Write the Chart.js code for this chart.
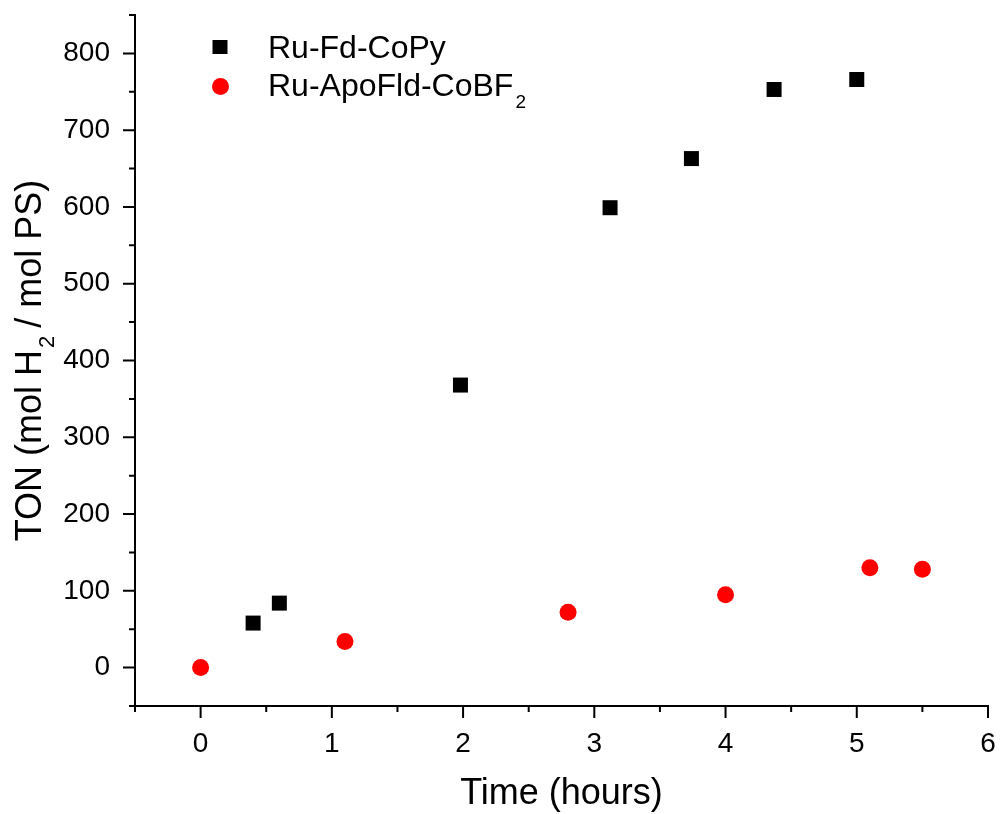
<!DOCTYPE html>
<html>
<head>
    <title>TON vs Time</title>
    <script src="https://cdn.jsdelivr.net/npm/chart.js"></script>
    <style>
        html, body { margin: 0; padding: 0; background: #fff; }
        #wrap { width: 1000px; height: 814px; }
    </style>
</head>
<body>
    <div id="wrap"><canvas id="tonChart" width="1000" height="814"></canvas></div>

    <script>
        // Ru-Fd-CoPy (black squares)
        const fdHours = [0.4, 0.6, 1.98, 3.12, 3.74, 4.37, 5.0];
        const fdTon = [58, 84, 368, 599, 663, 753, 766];

        // Ru-ApoFld-CoBF2 (red circles)
        const fldHours = [0, 1.1, 2.8, 4.0, 5.1, 5.5];
        const fldTon = [0, 34, 72, 95, 130, 128];

        // axis ticks
        const xTicks = [0, 1, 2, 3, 4, 5, 6];
        const xMinor = [-0.5, 0.5, 1.5, 2.5, 3.5, 4.5, 5.5];
        const yTicks = [0, 100, 200, 300, 400, 500, 600, 700, 800];
        const yMinor = [-50, 50, 150, 250, 350, 450, 550, 650, 750, 850];

        const FONT = "'Liberation Sans', Arial, sans-serif";

        // draws text pieces, some of them as subscripts
        const drawRich = (ctx, parts, x, y, size, align) => {
            const subSize = Math.round(size * 0.6);
            let total = 0;
            parts.forEach(([t, sub]) => {
                ctx.font = `${sub ? subSize : size}px ${FONT}`;
                total += ctx.measureText(t).width;
            });
            let cx = align === 'left' ? x : x - total / 2;
            parts.forEach(([t, sub]) => {
                ctx.font = `${sub ? subSize : size}px ${FONT}`;
                ctx.fillText(t, cx + (sub ? 2 : 0), sub ? y + size * 0.36 : y);
                cx += ctx.measureText(t).width;
            });
        };

        const frameDecor = {
            id: 'frameDecor',
            afterDraw(chart) {
                const { ctx, chartArea: a } = chart;
                const x = chart.scales.x, y = chart.scales.y;
                ctx.save();
                ctx.strokeStyle = '#000';
                ctx.lineWidth = 2;
                ctx.beginPath();
                xTicks.forEach(v => { const p = x.getPixelForValue(v); ctx.moveTo(p, a.bottom); ctx.lineTo(p, a.bottom + 12); });
                xMinor.forEach(v => { const p = x.getPixelForValue(v); ctx.moveTo(p, a.bottom); ctx.lineTo(p, a.bottom + 6); });
                yTicks.forEach(v => { const p = y.getPixelForValue(v); ctx.moveTo(a.left, p); ctx.lineTo(a.left - 12, p); });
                yMinor.forEach(v => { const p = y.getPixelForValue(v); ctx.moveTo(a.left, p); ctx.lineTo(a.left - 6, p); });
                ctx.stroke();

                // axis titles
                ctx.fillStyle = '#000';
                ctx.textBaseline = 'alphabetic';
                ctx.textAlign = 'left';
                drawRich(ctx, [['Time (hours)', false]], (a.left + a.right) / 2, 804, 36);
                ctx.save();
                ctx.translate(41, (a.top + a.bottom) / 2);
                ctx.rotate(-Math.PI / 2);
                drawRich(ctx, [['TON (mol H', false], ['2', true], [' / mol PS)', false]], 0, 0, 36);
                ctx.restore();

                // legend
                const ds = chart.data.datasets;
                ctx.fillStyle = ds[0].backgroundColor;
                ctx.fillRect(220 - 7.5, 47 - 7, 15, 14);
                ctx.fillStyle = ds[1].backgroundColor;
                ctx.beginPath();
                ctx.arc(220.5, 86.5, 8.5, 0, Math.PI * 2);
                ctx.fill();
                ctx.fillStyle = '#000';
                drawRich(ctx, [['Ru-Fd-CoPy', false]], 268, 58, 32, 'left');
                drawRich(ctx, [['Ru-ApoFld-CoBF', false], ['2', true]], 268, 96, 32, 'left');
                ctx.restore();
            }
        };

        new Chart(document.getElementById('tonChart'), {
            type: 'scatter',
            data: {
                datasets: [
                    {
                        label: 'Ru-Fd-CoPy',
                        data: fdHours.map((h, i) => ({ x: h, y: fdTon[i] })),
                        pointStyle: 'rect',
                        pointRadius: 10.6,
                        backgroundColor: '#000000',
                        borderWidth: 0
                    },
                    {
                        label: 'Ru-ApoFld-CoBF2',
                        data: fldHours.map((h, i) => ({ x: h, y: fldTon[i] })),
                        pointStyle: 'circle',
                        pointRadius: 8.5,
                        backgroundColor: '#ff0000',
                        borderWidth: 0
                    }
                ]
            },
            options: {
                responsive: false,
                animation: false,
                devicePixelRatio: 1,
                layout: { padding: { top: 15, right: 12, left: 0, bottom: 0 } },
                plugins: {
                    legend: { display: false },
                    tooltip: { enabled: false }
                },
                scales: {
                    x: {
                        type: 'linear',
                        min: -0.5,
                        max: 6,
                        afterBuildTicks: s => { s.ticks = xTicks.map(v => ({ value: v })); },
                        afterFit: s => { s.height = 108; s.paddingLeft = 0; s.paddingRight = 0; },
                        grid: { drawOnChartArea: false, drawTicks: false },
                        border: { color: '#000', width: 2 },
                        ticks: {
                            color: '#000',
                            font: { family: FONT, size: 28 },
                            padding: 21,
                            maxRotation: 0,
                            autoSkip: false
                        }
                    },
                    y: {
                        min: -50,
                        max: 850,
                        afterBuildTicks: s => { s.ticks = yTicks.map(v => ({ value: v })); },
                        afterFit: s => { s.width = 135; s.paddingTop = 0; s.paddingBottom = 0; },
                        grid: { drawOnChartArea: false, drawTicks: false },
                        border: { color: '#000', width: 2 },
                        ticks: {
                            color: '#000',
                            font: { family: FONT, size: 28 },
                            padding: 25
                        }
                    }
                }
            },
            plugins: [frameDecor]
        });
    </script>
</body>
</html>
